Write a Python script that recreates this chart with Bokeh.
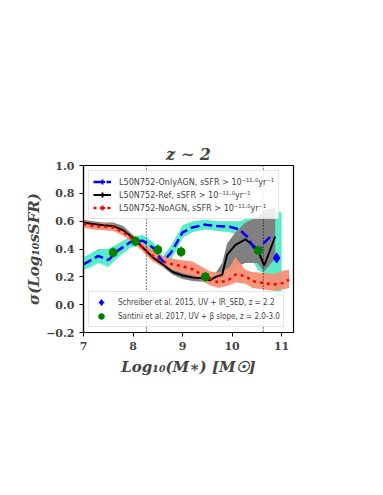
import numpy as np
from bokeh.plotting import figure
from bokeh.models import Span, Legend, LegendItem, FixedTicker
from bokeh.embed import file_html
from bokeh.resources import INLINE

# ---------------- data ----------------
agn_mass = [7.0, 7.15, 7.3, 7.5, 7.7, 7.95, 8.2, 8.4, 8.6, 8.76, 8.89, 9.0, 9.2, 9.45,
            9.7, 9.95, 10.15, 10.3, 10.44, 10.52, 10.66, 10.78]
agn_sig = [0.29, 0.32, 0.35, 0.32, 0.39, 0.45, 0.46, 0.41, 0.31, 0.37, 0.45, 0.52, 0.555, 0.575,
           0.565, 0.56, 0.54, 0.49, 0.41, 0.37, 0.45, 0.49]
agn_band_mass = agn_mass + [10.9, 11.0]
agn_lo = [0.25, 0.27, 0.30, 0.27, 0.34, 0.41, 0.43, 0.37, 0.27, 0.32, 0.40, 0.48, 0.52, 0.54,
          0.53, 0.52, 0.50, 0.42, 0.30, 0.25, 0.22, 0.15, 0.07, 0.06]
agn_hi = [0.34, 0.37, 0.40, 0.40, 0.44, 0.49, 0.50, 0.45, 0.35, 0.42, 0.50, 0.57, 0.60, 0.61,
          0.60, 0.60, 0.60, 0.62, 0.64, 0.64, 0.65, 0.66, 0.67, 0.66]

ref_mass = [7.0, 7.2, 7.4, 7.6, 7.8, 8.0, 8.2, 8.4, 8.6, 8.8, 9.0, 9.2, 9.4, 9.55, 9.67,
            9.8, 9.9, 10.07, 10.27, 10.51, 10.65, 10.87]
ref_sig = [0.59, 0.58, 0.57, 0.565, 0.535, 0.48, 0.41, 0.34, 0.29, 0.235, 0.21, 0.195, 0.19,
           0.175, 0.2, 0.215, 0.36, 0.43, 0.47, 0.40, 0.28, 0.49]
ref_lo = [0.57, 0.56, 0.55, 0.545, 0.515, 0.46, 0.39, 0.32, 0.27, 0.215, 0.185, 0.17, 0.165,
          0.155, 0.175, 0.19, 0.23, 0.27, 0.30, 0.30, 0.24, 0.33]
ref_hi = [0.61, 0.60, 0.59, 0.59, 0.565, 0.50, 0.43, 0.36, 0.31, 0.255, 0.23, 0.215, 0.21,
          0.20, 0.23, 0.30, 0.44, 0.52, 0.59, 0.63, 0.68, 0.70]

noagn_mass = [7.0, 7.2, 7.4, 7.6, 7.8, 8.0, 8.2, 8.4, 8.6, 8.8, 9.0, 9.2, 9.4, 9.55, 9.73,
              9.94, 10.07, 10.27, 10.41, 10.61, 10.84, 11.05, 11.15]
noagn_sig = [0.58, 0.565, 0.56, 0.555, 0.52, 0.47, 0.41, 0.35, 0.31, 0.29, 0.275, 0.255, 0.215,
             0.19, 0.157, 0.18, 0.217, 0.205, 0.17, 0.157, 0.145, 0.157, 0.18]
noagn_lo = [0.555, 0.54, 0.535, 0.53, 0.495, 0.445, 0.38, 0.31, 0.27, 0.25, 0.23, 0.21, 0.17,
            0.14, 0.12, 0.14, 0.16, 0.15, 0.12, 0.11, 0.10, 0.11, 0.12]
noagn_hi = [0.605, 0.59, 0.585, 0.58, 0.545, 0.495, 0.44, 0.39, 0.35, 0.33, 0.32, 0.31, 0.27,
            0.24, 0.23, 0.265, 0.34, 0.25, 0.235, 0.23, 0.22, 0.245, 0.25]

santini_mass = [7.6, 8.05, 8.5, 8.97, 9.46, 10.53]
santini_sig = [0.375, 0.455, 0.395, 0.38, 0.2, 0.39]
santini_err = [0.035, 0.035, 0.04, 0.04, 0.035, 0.03]

schreiber_mass = [10.9]
schreiber_sig = [0.335]
schreiber_err = [0.035]

mass_limits = [8.27, 10.63]

y_ticks = [-0.2, 0.0, 0.2, 0.4, 0.6, 0.8, 1.0]
y_tick_labels = ["\u22120.2", "0.0", "0.2", "0.4", "0.6", "0.8", "1.0"]
x_ticks = [7, 8, 9, 10, 11]

labels = [
    "L50N752-OnlyAGN, sSFR > 10\u207b\u00b9\u00b9\u00b7\u2070yr\u207b\u00b9",
    "L50N752-Ref, sSFR > 10\u207b\u00b9\u00b9\u00b7\u2070yr\u207b\u00b9",
    "L50N752-NoAGN, sSFR > 10\u207b\u00b9\u00b9\u00b7\u2070yr\u207b\u00b9",
]
obs_labels = [
    "Schreiber et al. 2015, UV + IR_SED, z = 2.2",
    "Santini et al. 2017, UV + \u03b2 slope, z = 2.0-3.0",
]

# ---------------- figure ----------------
p = figure(frame_width=210, frame_height=167, x_range=(7, 11.24), y_range=(-0.2, 1.0),
           output_backend="svg", toolbar_location=None,
           min_border_left=83, min_border_top=165, min_border_right=20, min_border_bottom=50,
           title="z \u223c 2")
p.background_fill_color = "white"
p.border_fill_color = "white"
p.outline_line_color = "black"
p.outline_line_width = 1.2
p.grid.visible = False

p.title.align = "center"
p.title.text_font = "DejaVu Serif"
p.title.text_font_style = "bold italic"
p.title.text_font_size = "16px"
p.title.offset = 0
p.title.standoff = 4

for ax in (p.xaxis[0], p.yaxis[0]):
    ax.major_label_text_font = "DejaVu Serif"
    ax.major_label_text_font_style = "bold"
    ax.major_label_text_font_size = "11px"
    ax.major_tick_out = 4
    ax.major_tick_in = 0
    ax.minor_tick_line_color = None
    ax.axis_line_width = 1.2
    ax.axis_label_text_font = "DejaVu Serif"
    ax.axis_label_text_font_style = "bold italic"
    ax.axis_label_text_font_size = "15px"

p.xaxis.ticker = FixedTicker(ticks=x_ticks)
p.yaxis.ticker = FixedTicker(ticks=y_ticks)
p.yaxis.major_label_overrides = {t: l for t, l in zip(y_ticks, y_tick_labels)}
p.xaxis.axis_label = "Log\u2081\u2080(M\u2217) [M\u2609]"
p.yaxis.axis_label = "\u03c3(Log\u2081\u2080sSFR)"
p.xaxis.axis_label_standoff = 5
p.yaxis.axis_label_standoff = 0

# bands
p.varea(x=agn_band_mass, y1=agn_lo, y2=agn_hi, fill_color="#4FEBC8", fill_alpha=0.95)
p.varea(x=ref_mass, y1=ref_lo, y2=ref_hi, fill_color="#808080", fill_alpha=1.0)
p.varea(x=noagn_mass, y1=noagn_lo, y2=noagn_hi, fill_color="#F88E72", fill_alpha=0.95)

# vertical mass limits
for m in mass_limits:
    p.add_layout(Span(location=m, dimension="height", line_color="black",
                      line_dash="1 2", line_width=1))

# lines
r_ref = p.line(ref_mass, ref_sig, line_color="black", line_width=2)
r_noagn = p.line(noagn_mass, noagn_sig, line_color="#FF0000", line_width=2.5, line_dash="3 4")
r_agn = p.line(agn_mass, agn_sig, line_color="#0000FF", line_width=2.5, line_dash="9 4")

# observations
p.segment(x0=santini_mass, x1=santini_mass,
          y0=np.array(santini_sig) - np.array(santini_err),
          y1=np.array(santini_sig) + np.array(santini_err),
          line_color="#2E9B2E", line_width=1.5)
r_sant = p.scatter(santini_mass, santini_sig, marker="circle", size=8,
                   fill_color="#007F00", line_color="#007F00")
p.segment(x0=schreiber_mass, x1=schreiber_mass,
          y0=np.array(schreiber_sig) - np.array(schreiber_err),
          y1=np.array(schreiber_sig) + np.array(schreiber_err),
          line_color="#0000FF", line_width=1.5)
r_sch = p.scatter(schreiber_mass, schreiber_sig, marker="diamond", size=10,
                  fill_color="#0000FF", line_color="#0000FF")

# legend proxies for error-bar ticks (hidden in the plot, shown in legend)
def tick(xs, ys, color, lw=2):
    return p.scatter(xs, ys, marker="cross", visible=False,
                     size=10, line_color=color, line_width=lw)

t_agn = tick(agn_mass, agn_sig, "#0000FF")
t_ref = tick(ref_mass, ref_sig, "black")
t_noagn = tick(noagn_mass, noagn_sig, "#FF0000")
t_sch = tick(schreiber_mass, schreiber_sig, "#0000FF", 1.5)
t_sant = tick(santini_mass, santini_sig, "#2E9B2E", 1.5)

common = dict(label_text_font="'Liberation Sans Narrow', 'DejaVu Sans Condensed', 'Liberation Sans'",
              glyph_width=18, label_height=12, label_standoff=8, spacing=0, margin=5,
              border_line_color="#CCCCCC", border_line_width=1,
              background_fill_color="white", background_fill_alpha=0.85)

leg1 = Legend(items=[LegendItem(label=labels[0], renderers=[r_agn, t_agn]),
                     LegendItem(label=labels[1], renderers=[r_ref, t_ref]),
                     LegendItem(label=labels[2], renderers=[r_noagn, t_noagn])],
              location="top_left", label_text_font_size="9px",
              glyph_height=13, padding=4, **common)
leg2 = Legend(items=[LegendItem(label=obs_labels[0], renderers=[t_sch, r_sch]),
                     LegendItem(label=obs_labels[1], renderers=[t_sant, r_sant])],
              location="bottom_left", label_text_font_size="8px",
              glyph_height=14, padding=3, **common)
p.add_layout(leg1)
p.add_layout(leg2)

open("out.html", "w").write(file_html(p, INLINE))
